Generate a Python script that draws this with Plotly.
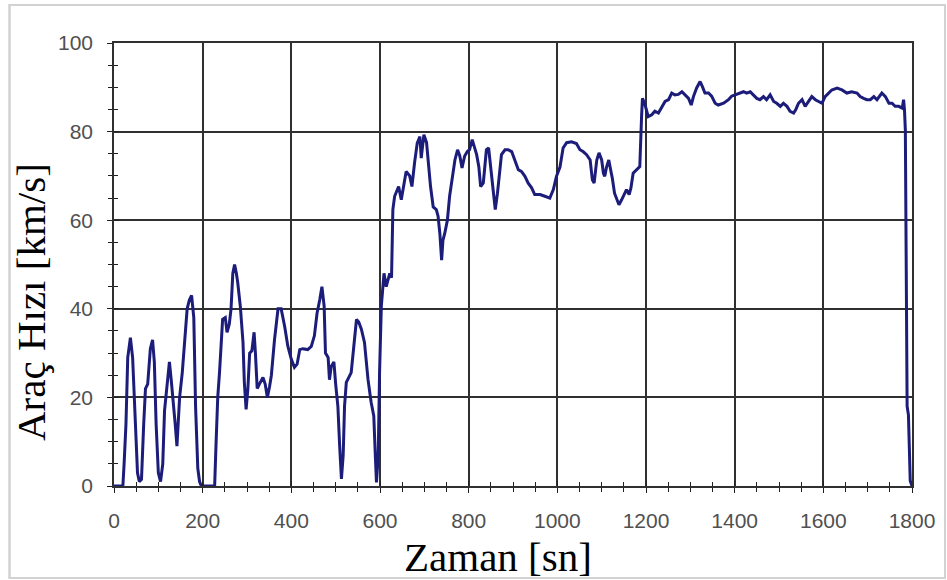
import plotly.graph_objects as go

time_s = [0, 4, 20, 23, 27, 31, 37, 42, 46, 50, 53, 57, 62, 67, 71, 76, 82, 87, 91, 95, 100, 105, 110, 114,
          120, 125, 129, 133, 138, 142, 148, 154, 159, 165, 170, 175, 180, 184, 189, 193, 197, 227, 230, 234,
          238, 242, 245, 251, 255, 260, 264, 268, 272, 276, 279, 285, 291, 294, 298, 302, 306, 311, 316, 319,
          323, 328, 336, 341, 346, 351, 355, 362, 370, 377, 385, 392, 400, 407, 413, 419, 426, 437, 445, 452,
          458, 464, 469, 474, 477, 483, 486, 490, 496, 500, 505, 509, 513, 517, 520, 524, 529, 535, 541, 547,
          552, 558, 565, 573, 580, 586, 589, 592, 596, 597, 599, 603, 609, 614, 622, 626, 629, 633, 637, 642,
          648, 654, 659, 667, 672, 678, 684, 690, 693, 699, 705, 710, 714, 720, 727, 731, 735, 739, 742, 746,
          752, 757, 763, 769, 775, 780, 785, 791, 797, 802, 808, 812, 818, 823, 827, 833, 836, 840, 845, 850,
          855, 860, 865, 870, 874, 882, 889, 897, 904, 912, 919, 927, 934, 942, 949, 961, 972, 983, 991, 998,
          1006, 1013, 1021, 1032, 1043, 1051, 1058, 1066, 1074, 1079, 1083, 1089, 1094, 1100, 1104, 1107, 1111,
          1116, 1121, 1124, 1129, 1134, 1139, 1145, 1151, 1156, 1162, 1166, 1171, 1179, 1186, 1190, 1192, 1198,
          1205, 1213, 1220, 1228, 1235, 1243, 1251, 1258, 1265, 1273, 1281, 1288, 1296, 1302, 1307, 1314, 1322,
          1327, 1333, 1341, 1348, 1356, 1363, 1375, 1386, 1393, 1401, 1409, 1420, 1427, 1435, 1442, 1450, 1457,
          1465, 1472, 1480, 1488, 1495, 1503, 1510, 1518, 1525, 1533, 1538, 1544, 1552, 1559, 1567, 1574, 1582,
          1589, 1597, 1604, 1612, 1619, 1631, 1642, 1653, 1664, 1676, 1683, 1691, 1698, 1706, 1714, 1721, 1732,
          1740, 1748, 1755, 1762, 1770, 1778, 1781, 1783, 1785, 1789, 1792, 1796, 1800]

speed_kmh = [0, 0, 0, 5.4, 14, 29, 33.5, 29, 20, 12, 3, 1, 1.5, 14, 22, 23, 31, 33, 28, 14, 3, 1, 5, 17,
             22.5, 28, 24, 20, 14, 9, 20, 25.6, 31.5, 40, 42, 43, 38, 18, 4, 1, 0, 0, 9, 20,
             25.6, 33, 37.6, 38, 34.7, 36.5, 40, 48, 50, 48, 46, 40.5, 32.4, 23.4, 17.3, 22, 30, 30.5, 34.7, 30,
             22, 23, 24.5, 23, 20, 22.5, 25, 33, 40, 40, 36, 31.6, 28.6, 26.8, 27.5, 30.8, 31, 30.8, 31.5, 33.9,
             39, 42, 45, 40.6, 30, 29, 24, 27, 28, 23, 18, 9, 1.6, 7, 18, 23.4, 24.5, 25.6, 31.6, 37.6,
             37, 35.4, 32.4, 24, 18.9, 15.8, 8, 0.8, 6.8, 18, 25.6, 40.6, 48, 45, 48, 47, 62.4, 65.4, 66.5, 67.6,
             64.6, 68.4, 71, 70, 67.6, 73, 77.4, 78.9, 74, 79.3, 77.5, 72, 67.6, 63, 62.4, 60.9, 57, 51, 55.5, 57,
             60, 65.4, 69, 73.6, 75.9, 74.5, 71.8, 74.5, 75.5, 75.9, 78.2, 76.6, 74.8, 72, 67.6, 68.4, 72, 75.9, 76.3, 72,
             66.9, 62.4, 66.1, 72, 74.8, 75.9, 75.9, 75.5, 73.6, 71.4, 71, 69.9, 68.4, 67.3, 65.8, 65.8, 65.4, 65, 66.9, 69.9,
             72, 76.3, 77.5, 77.7, 77.3, 75.9, 75.5, 74.8, 73.6, 69.1, 68.4, 73.6, 75.2, 73.6, 70.6, 69.9, 72,
             73.6, 71, 69.5, 66.1, 64.6, 63.5, 64.6, 65.8, 66.9, 65.8, 67.3, 70.6, 71.4, 72.1, 83.4, 87.5, 86,
             83.4, 83.8, 84.6, 84.2, 85.3, 86.8, 87.2, 88.7, 88.3, 88.4, 89, 88.3, 87.5, 86, 87.9, 89.8, 91.3,
             90.2, 88.7, 88.7, 88, 86.4, 86, 86.4, 87.2, 88, 88.3, 88.7, 89, 88.7, 89, 88.3, 87.5, 87.2,
             87.9, 87.2, 88.3, 86.8, 86.4, 85.7, 86.4, 85.7, 84.6, 84.2, 85, 86.4, 87.2, 85.7, 86.8, 87.9, 87.2,
             86.8, 86.4, 87.9, 88.7, 89.4, 89.8, 89.4, 88.7, 89, 88.7, 87.9, 87.5, 87.2, 87.2, 87.9, 87.2, 88.7,
             87.9, 86.4, 86.4, 85.7, 85.7, 85.3, 87.2, 85, 80.4, 18, 16, 1.2, 0]

phase_bounds = [600, 1200]
x_ticks = [0, 200, 400, 600, 800, 1000, 1200, 1400, 1600, 1800]
y_ticks = [0, 20, 40, 60, 80, 100]
x_title = "Zaman [sn]"
y_title = "Araç Hızı [km/s]"

fig = go.Figure()
fig.add_trace(go.Scatter(x=time_s, y=speed_kmh, mode="lines",
                         line=dict(color="#1c1c7a", width=3), showlegend=False, hoverinfo="x+y"))
# invisible trace on overlay axes so the inward tick halves are drawn
fig.add_trace(go.Scatter(x=[0], y=[0], xaxis="x2", yaxis="y2", mode="markers",
                         marker=dict(opacity=0), showlegend=False, hoverinfo="skip"))

for b in phase_bounds:
    fig.add_vline(x=b, line=dict(color="#8b1010", width=2))

tick_font = dict(family="Liberation Sans, Arial", size=21, color="#505050")
title_font = dict(family="Liberation Serif, Times New Roman", size=41, color="#000000")

fig.update_layout(
    width=947, height=580,
    margin=dict(l=114, r=35, t=43, b=94),
    paper_bgcolor="white", plot_bgcolor="white",
    xaxis=dict(range=[0, 1800], tickvals=x_ticks, showgrid=True, gridcolor="#303030", gridwidth=1.5,
               showline=True, linecolor="#303030", linewidth=1.5, mirror=True,
               ticks="outside", ticklen=5, tickcolor="#202020", tickwidth=1.2,
               minor=dict(dtick=50, ticks="outside", ticklen=4, tickcolor="#202020", showgrid=False),
               tickfont=tick_font, zeroline=False, ticklabelstandoff=10),
    yaxis=dict(range=[0, 100], tickvals=y_ticks, showgrid=True, gridcolor="#303030", gridwidth=1.5,
               showline=True, linecolor="#303030", linewidth=1.5, mirror=True,
               ticks="outside", ticklen=5, tickcolor="#202020", tickwidth=1.2,
               minor=dict(dtick=5, ticks="outside", ticklen=4, tickcolor="#202020", showgrid=False),
               tickfont=tick_font, zeroline=False, ticklabelstandoff=10),
    xaxis2=dict(range=[0, 1800], overlaying="x", anchor="y2", side="bottom", showgrid=False,
                tickvals=x_ticks, showticklabels=False, ticks="inside", ticklen=5, tickcolor="#202020",
                tickwidth=1.2,
                minor=dict(dtick=50, ticks="inside", ticklen=4, tickcolor="#202020", showgrid=False),
                zeroline=False, showline=False),
    yaxis2=dict(range=[0, 100], overlaying="y", anchor="x2", side="left", showgrid=False,
                tickvals=y_ticks, showticklabels=False, ticks="inside", ticklen=5, tickcolor="#202020",
                tickwidth=1.2,
                minor=dict(dtick=5, ticks="inside", ticklen=4, tickcolor="#202020", showgrid=False),
                zeroline=False, showline=False),
    shapes=[dict(type="rect", xref="paper", yref="paper",
                 x0=(9.5 - 114) / 798, x1=(945 - 114) / 798,
                 y0=(486 - 578) / 443, y1=(486 - 5) / 443,
                 line=dict(color="#d2d2d2", width=2), fillcolor="rgba(0,0,0,0)", layer="below")],
    annotations=[
        dict(text=x_title, xref="paper", yref="paper", x=(498 - 114) / 798, y=(486 - 557) / 443,
             xanchor="center", yanchor="middle", showarrow=False, font=title_font),
        dict(text=y_title, xref="paper", yref="paper", x=(31 - 114) / 798, y=(486 - 302) / 443,
             xanchor="center", yanchor="middle", showarrow=False, font=title_font, textangle=-90),
    ],
)

fig.write_html("out.html")
